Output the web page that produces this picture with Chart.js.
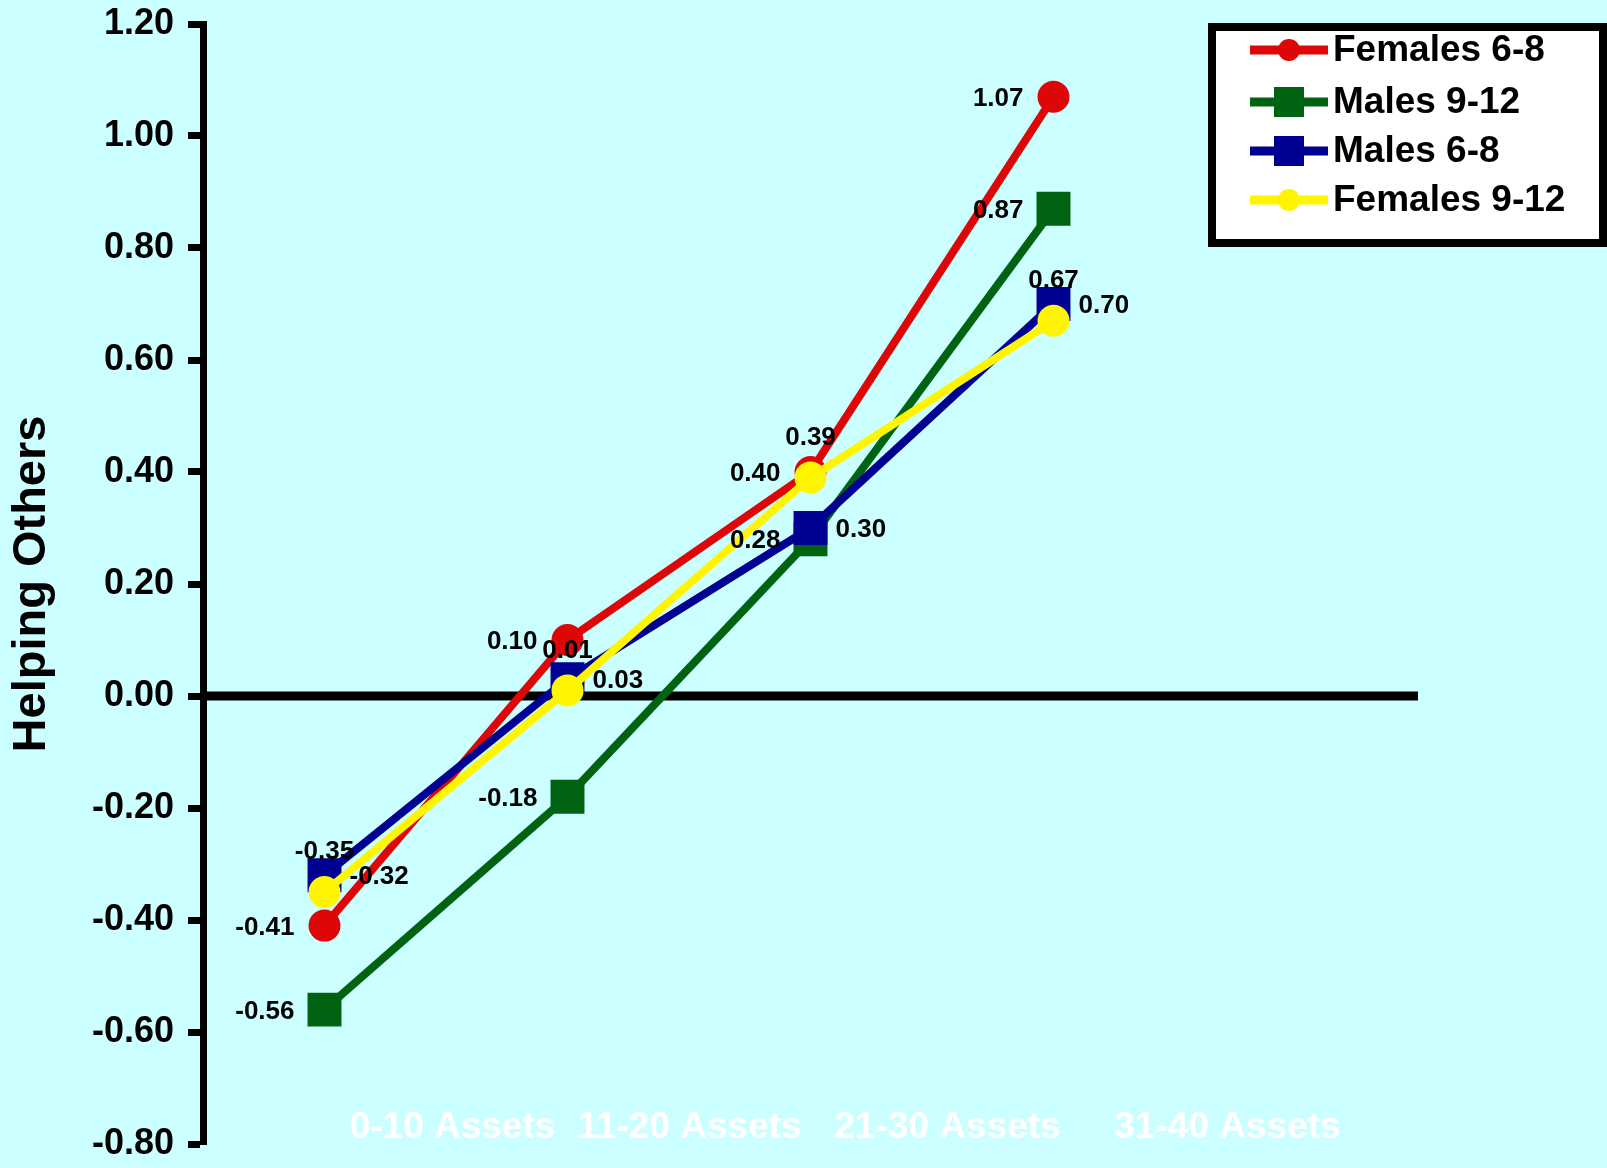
<!DOCTYPE html>
<html>
<head>
<meta charset="utf-8">
<script src="https://cdn.jsdelivr.net/npm/chart.js@4.4.1/dist/chart.umd.min.js"></script>
<style>
    html, body { margin: 0; padding: 0; background: #ccffff; }
    #wrap { width: 1607px; height: 1168px; }
</style>
</head>
<body>
<div id="wrap"><canvas id="helpingChart" width="1607" height="1168"></canvas></div>
<script>
// ── DATA ──────────────────────────────────────────────
const categories = ['0-10 Assets', '11-20 Assets', '21-30 Assets', '31-40 Assets', ''];
const females68 = [-0.41, 0.10, 0.40, 1.07];
const males912 = [-0.56, -0.18, 0.28, 0.87];
const males68 = [-0.32, 0.03, 0.30, 0.70];
const females912 = [-0.35, 0.01, 0.39, 0.67];
const yTicks = [-0.80, -0.60, -0.40, -0.20, 0.00, 0.20, 0.40, 0.60, 0.80, 1.00, 1.20];

const FONT = 'Arial, "Liberation Sans", sans-serif';

// where each series puts its value labels
const labelSide = {
    'Females 6-8': 'left',
    'Males 9-12': 'left',
    'Males 6-8': 'right',
    'Females 9-12': 'above'
};

// category labels sit to the right of their points
const catLabelShift = [128, 122, 137, 174];

function series(label, data, color, shape, order) {
    return {
        label, data, order,
        borderColor: color,
        backgroundColor: color,
        borderWidth: 8,
        pointStyle: shape,
        pointRadius: shape === 'rect' ? 24 : 16,
        pointBorderWidth: 0,
        pointBackgroundColor: color,
        pointHoverRadius: shape === 'rect' ? 24 : 16,
        tension: 0,
        fill: false
    };
}

const datasets = [
    series('Females 6-8', females68, '#de0606', 'circle', 4),
    series('Males 9-12', males912, '#006312', 'rect', 3),
    series('Males 6-8', males68, '#000092', 'rect', 2),
    series('Females 9-12', females912, '#fff500', 'circle', 1)
];

// zero line across the plot
const zeroLine = {
    id: 'zeroLine',
    beforeDatasetsDraw(chart) {
        const {ctx, chartArea, scales} = chart;
        const y = scales.y.getPixelForValue(0);
        ctx.save();
        ctx.strokeStyle = '#000';
        ctx.lineWidth = 9;
        ctx.beginPath();
        ctx.moveTo(chartArea.left, y);
        ctx.lineTo(chartArea.right, y);
        ctx.stroke();
        ctx.restore();
    }
};

// value labels next to each point
const valueLabels = {
    id: 'valueLabels',
    afterDatasetsDraw(chart) {
        const {ctx} = chart;
        ctx.save();
        ctx.fillStyle = '#000';
        ctx.font = 'bold 26px ' + FONT;
        chart.data.datasets.forEach((ds, i) => {
            const side = labelSide[ds.label];
            chart.getDatasetMeta(i).data.forEach((pt, j) => {
                const txt = ds.data[j].toFixed(2);
                if (side === 'left') {
                    ctx.textAlign = 'right';
                    ctx.textBaseline = 'middle';
                    ctx.fillText(txt, pt.x - 30, pt.y + 2);
                } else if (side === 'right') {
                    ctx.textAlign = 'left';
                    ctx.textBaseline = 'middle';
                    ctx.fillText(txt, pt.x + 25, pt.y + 2);
                } else {
                    ctx.textAlign = 'center';
                    ctx.textBaseline = 'middle';
                    ctx.fillText(txt, pt.x, pt.y - 40);
                }
            });
        });
        ctx.restore();
    }
};

// white category names along the bottom
const categoryLabels = {
    id: 'categoryLabels',
    afterDraw(chart) {
        const {ctx, scales} = chart;
        ctx.save();
        ctx.fillStyle = '#ffffff';
        ctx.font = 'bold 37px ' + FONT;
        ctx.textAlign = 'center';
        ctx.textBaseline = 'middle';
        categories.forEach((c, i) => {
            if (!c) return;
            ctx.fillText(c, scales.x.getPixelForValue(i) + catLabelShift[i], 1128);
        });
        ctx.restore();
    }
};

// boxed legend in the top right corner
const boxLegend = {
    id: 'boxLegend',
    afterDraw(chart) {
        const {ctx} = chart;
        const rows = [50, 102, 151, 200];
        ctx.save();
        ctx.fillStyle = '#ffffff';
        ctx.fillRect(1212, 27, 391, 216);
        ctx.strokeStyle = '#000';
        ctx.lineWidth = 8;
        ctx.strokeRect(1212, 27, 391, 216);
        chart.data.datasets.forEach((ds, i) => {
            const y = rows[i];
            ctx.strokeStyle = ds.borderColor;
            ctx.lineWidth = 9;
            ctx.beginPath();
            ctx.moveTo(1250, y);
            ctx.lineTo(1328, y);
            ctx.stroke();
            ctx.fillStyle = ds.borderColor;
            if (ds.pointStyle === 'rect') {
                ctx.fillRect(1274, y - 15, 30, 30);
            } else {
                ctx.beginPath();
                ctx.arc(1289, y, 11, 0, Math.PI * 2);
                ctx.fill();
            }
            ctx.fillStyle = '#000';
            ctx.font = 'bold 37px ' + FONT;
            ctx.textAlign = 'left';
            ctx.textBaseline = 'middle';
            ctx.fillText(ds.label, 1333, y + 1);
        });
        ctx.restore();
    }
};

new Chart(document.getElementById('helpingChart'), {
    type: 'line',
    data: { labels: categories, datasets },
    options: {
        responsive: false,
        animation: false,
        layout: { padding: { top: 24, right: 189, bottom: 21, left: 0 } },
        plugins: {
            legend: { display: false },
            tooltip: { enabled: false }
        },
        scales: {
            x: {
                display: false,
                offset: true
            },
            y: {
                min: -0.8,
                max: 1.2,
                afterFit: scale => {
                    scale.width = 203;
                    scale.paddingTop = 0;
                    scale.paddingBottom = 0;
                },
                afterBuildTicks: scale => { scale.ticks = yTicks.map(v => ({ value: v })); },
                ticks: {
                    color: '#000',
                    padding: 14,
                    font: { family: FONT, size: 36, weight: 'bold' },
                    callback: v => v.toFixed(2)
                },
                grid: {
                    drawOnChartArea: false,
                    drawTicks: true,
                    tickLength: 15,
                    tickWidth: 7,
                    tickColor: '#000'
                },
                border: { display: true, color: '#000', width: 7 },
                title: {
                    display: true,
                    text: 'Helping Others',
                    color: '#000',
                    padding: { top: 9, bottom: 0 },
                    font: { family: FONT, size: 47, weight: 'bold', lineHeight: 1 }
                }
            }
        }
    },
    plugins: [zeroLine, valueLabels, categoryLabels, boxLegend]
});
</script>
</body>
</html>
